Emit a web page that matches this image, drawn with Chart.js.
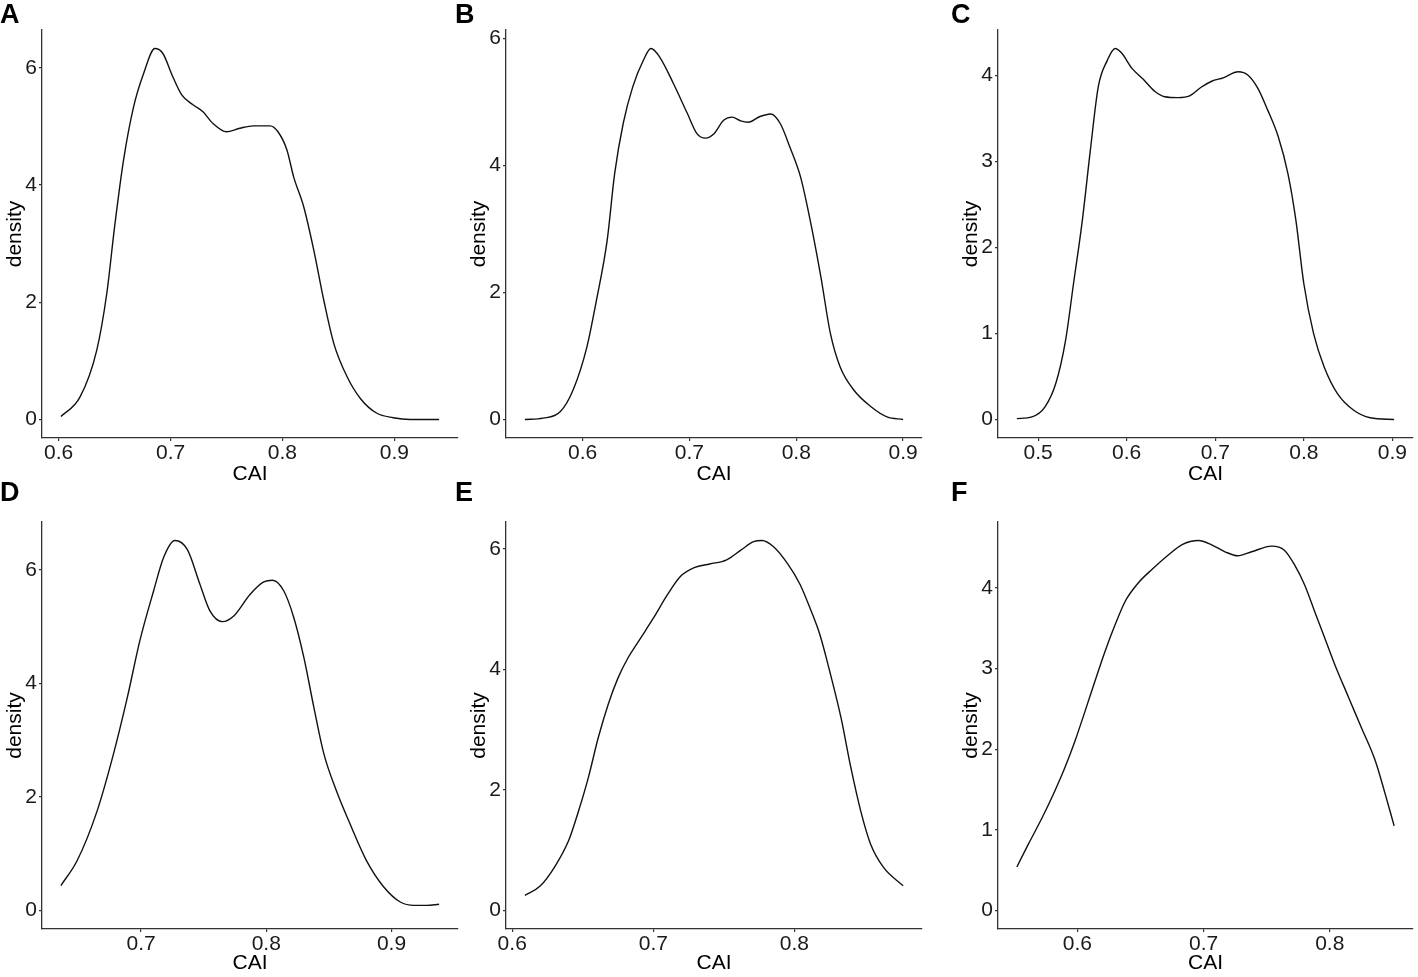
<!DOCTYPE html>
<html>
<head>
<meta charset="utf-8">
<script src="https://cdn.jsdelivr.net/npm/chart.js@4/dist/chart.umd.min.js"></script>
<style>
  html, body { margin: 0; padding: 0; background: #fff; }
  body { width: 1418px; height: 977px; position: relative; overflow: hidden; }
  canvas { position: absolute; }
  .tag { position: absolute; font: bold 27px "Liberation Sans", Arial, sans-serif; color: #000; line-height: 1; }
</style>
</head>
<body>
<canvas id="chartA" width="464" height="488" style="left:0;top:0"></canvas>
<canvas id="chartB" width="492" height="488" style="left:464px;top:0"></canvas>
<canvas id="chartC" width="462" height="488" style="left:956px;top:0"></canvas>
<canvas id="chartD" width="464" height="489" style="left:0;top:488px"></canvas>
<canvas id="chartE" width="492" height="489" style="left:464px;top:488px"></canvas>
<canvas id="chartF" width="462" height="489" style="left:956px;top:488px"></canvas>
<div class="tag" style="left:0;top:1px">A</div>
<div class="tag" style="left:455px;top:1px">B</div>
<div class="tag" style="left:951px;top:1px">C</div>
<div class="tag" style="left:0;top:479px">D</div>
<div class="tag" style="left:455px;top:479px">E</div>
<div class="tag" style="left:951px;top:479px">F</div>
<script>
// density curves of CAI
const caiA = [0.602, 0.619, 0.634, 0.643, 0.650, 0.658, 0.667, 0.676, 0.686, 0.693, 0.702, 0.710, 0.720, 0.729, 0.738, 0.750, 0.762, 0.774, 0.789, 0.796, 0.804, 0.810, 0.819, 0.828, 0.837, 0.846, 0.858, 0.870, 0.884, 0.899, 0.914, 0.940];
const densA = [0.05, 0.38, 1.18, 2.15, 3.29, 4.43, 5.34, 5.91, 6.33, 6.25, 5.85, 5.54, 5.37, 5.25, 5.05, 4.91, 4.97, 5.01, 5.01, 4.91, 4.60, 4.14, 3.63, 2.89, 2.03, 1.29, 0.72, 0.35, 0.11, 0.03, 0.00, 0.00];

const caiB = [0.546, 0.563, 0.579, 0.591, 0.604, 0.613, 0.623, 0.630, 0.638, 0.647, 0.657, 0.664, 0.672, 0.685, 0.698, 0.707, 0.715, 0.723, 0.732, 0.740, 0.748, 0.755, 0.766, 0.776, 0.785, 0.794, 0.804, 0.813, 0.823, 0.832, 0.841, 0.854, 0.870, 0.885, 0.900];
const densB = [0.00, 0.02, 0.12, 0.46, 1.14, 1.88, 2.82, 3.87, 4.66, 5.24, 5.66, 5.84, 5.71, 5.29, 4.82, 4.50, 4.43, 4.50, 4.71, 4.76, 4.70, 4.68, 4.77, 4.81, 4.66, 4.29, 3.82, 3.14, 2.25, 1.35, 0.83, 0.46, 0.20, 0.04, 0.00];

const caiC = [0.476, 0.493, 0.508, 0.520, 0.531, 0.540, 0.550, 0.559, 0.568, 0.578, 0.587, 0.594, 0.606, 0.619, 0.632, 0.643, 0.658, 0.671, 0.684, 0.696, 0.709, 0.726, 0.737, 0.748, 0.759, 0.771, 0.782, 0.791, 0.800, 0.811, 0.823, 0.838, 0.856, 0.875, 0.902];
const densC = [0.01, 0.03, 0.15, 0.42, 0.92, 1.58, 2.32, 3.13, 3.87, 4.17, 4.31, 4.26, 4.08, 3.95, 3.81, 3.75, 3.74, 3.76, 3.86, 3.93, 3.97, 4.04, 4.00, 3.85, 3.60, 3.29, 2.86, 2.32, 1.58, 1.00, 0.61, 0.30, 0.11, 0.02, 0.00];

const caiD = [0.636, 0.649, 0.665, 0.678, 0.689, 0.699, 0.710, 0.718, 0.727, 0.737, 0.747, 0.755, 0.765, 0.774, 0.787, 0.798, 0.805, 0.814, 0.822, 0.830, 0.838, 0.846, 0.856, 0.867, 0.880, 0.894, 0.907, 0.918, 0.928, 0.938];
const densD = [0.44, 0.88, 1.76, 2.76, 3.75, 4.75, 5.63, 6.22, 6.52, 6.36, 5.75, 5.28, 5.09, 5.19, 5.57, 5.79, 5.82, 5.63, 5.16, 4.46, 3.58, 2.76, 2.11, 1.52, 0.88, 0.41, 0.15, 0.09, 0.09, 0.11];

const caiE = [0.609, 0.620, 0.630, 0.640, 0.647, 0.654, 0.661, 0.668, 0.675, 0.682, 0.691, 0.700, 0.710, 0.719, 0.729, 0.740, 0.752, 0.762, 0.771, 0.777, 0.785, 0.795, 0.804, 0.811, 0.818, 0.825, 0.833, 0.840, 0.847, 0.854, 0.863, 0.877];
const densE = [0.25, 0.41, 0.72, 1.16, 1.65, 2.21, 2.87, 3.42, 3.86, 4.19, 4.52, 4.85, 5.24, 5.54, 5.69, 5.75, 5.82, 5.98, 6.12, 6.14, 6.04, 5.76, 5.41, 5.02, 4.58, 3.97, 3.20, 2.37, 1.65, 1.10, 0.72, 0.41];

const caiF = [0.552, 0.561, 0.572, 0.582, 0.590, 0.598, 0.606, 0.614, 0.622, 0.630, 0.638, 0.648, 0.659, 0.672, 0.683, 0.696, 0.706, 0.717, 0.727, 0.738, 0.754, 0.764, 0.772, 0.780, 0.788, 0.796, 0.804, 0.815, 0.825, 0.836, 0.844, 0.851];
const densF = [0.54, 0.82, 1.15, 1.48, 1.77, 2.10, 2.47, 2.85, 3.22, 3.55, 3.84, 4.06, 4.23, 4.41, 4.54, 4.59, 4.54, 4.45, 4.40, 4.45, 4.52, 4.47, 4.29, 4.04, 3.71, 3.38, 3.05, 2.64, 2.27, 1.86, 1.44, 1.05];

const xTicksA = [0.6, 0.7, 0.8, 0.9];
const xTicksB = [0.6, 0.7, 0.8, 0.9];
const xTicksC = [0.5, 0.6, 0.7, 0.8, 0.9];
const xTicksD = [0.7, 0.8, 0.9];
const xTicksE = [0.6, 0.7, 0.8];
const xTicksF = [0.6, 0.7, 0.8];
const yTicksA = [0, 2, 4, 6];
const yTicksB = [0, 2, 4, 6];
const yTicksC = [0, 1, 2, 3, 4];
const yTicksD = [0, 2, 4, 6];
const yTicksE = [0, 2, 4, 6];
const yTicksF = [0, 1, 2, 3, 4];

const FONT = "'Liberation Sans', Arial, sans-serif";
const tickFont = { family: FONT, size: 21 };
const titleFont = { family: FONT, size: 21 };

function makePanel(id, cai, dens, xTicks, yTicks, padTop, padRight, xAxisH) {
  // ggplot style 5% expansion around the data
  const xlo = Math.min(...cai), xhi = Math.max(...cai);
  const ex = (xhi - xlo) * 0.05;
  const ymax = Math.max(...dens);
  const ey = ymax * 0.05;

  return new Chart(document.getElementById(id), {
    type: "line",
    data: {
      datasets: [
        {
          data: cai.map((x, i) => ({ x: x, y: dens[i] })),
          borderColor: "#111",
          borderWidth: 1.4,
          pointRadius: 0,
          fill: false,
          cubicInterpolationMode: "monotone",
        },
      ],
    },
    options: {
      responsive: false,
      animation: false,
      layout: { padding: { top: padTop, right: padRight, left: 0, bottom: 0 } },
      plugins: { legend: { display: false }, tooltip: { enabled: false } },
      scales: {
        x: {
          type: "linear",
          min: xlo - ex,
          max: xhi + ex,
          afterBuildTicks: (s) => { s.ticks = xTicks.map((v) => ({ value: v })); },
          afterFit: (s) => { s.height = xAxisH; },
          grid: { display: true, drawOnChartArea: false, drawTicks: true, tickLength: 3, color: "#333", lineWidth: 1.2 },
          border: { display: true, color: "#333", width: 1.3 },
          ticks: { font: tickFont, color: "#1a1a1a", padding: 0, maxRotation: 0, callback: (v) => v.toFixed(1) },
          title: { display: true, text: "CAI", font: titleFont, color: "#000", padding: { top: 0, bottom: 1 } },
        },
        y: {
          type: "linear",
          min: -ey,
          max: ymax + ey,
          afterBuildTicks: (s) => { s.ticks = yTicks.map((v) => ({ value: v })); },
          afterFit: (s) => { s.width = 42; },
          grid: { display: true, drawOnChartArea: false, drawTicks: true, tickLength: 3, color: "#333", lineWidth: 1.2 },
          border: { display: true, color: "#333", width: 1.3 },
          ticks: { font: tickFont, color: "#1a1a1a", padding: 2, callback: (v) => String(v) },
          title: { display: true, text: "density", font: titleFont, color: "#000", padding: { top: 3, bottom: 0 } },
        },
      },
    },
  });
}

makePanel("chartA", caiA, densA, xTicksA, yTicksA, 30, 6, 50);
makePanel("chartB", caiB, densB, xTicksB, yTicksB, 30, 34, 50);
makePanel("chartC", caiC, densC, xTicksC, yTicksC, 30, 5, 50);
makePanel("chartD", caiD, densD, xTicksD, yTicksD, 34, 6, 48);
makePanel("chartE", caiE, densE, xTicksE, yTicksE, 34, 34, 48);
makePanel("chartF", caiF, densF, xTicksF, yTicksF, 34, 5, 48);
</script>
</body>
</html>
